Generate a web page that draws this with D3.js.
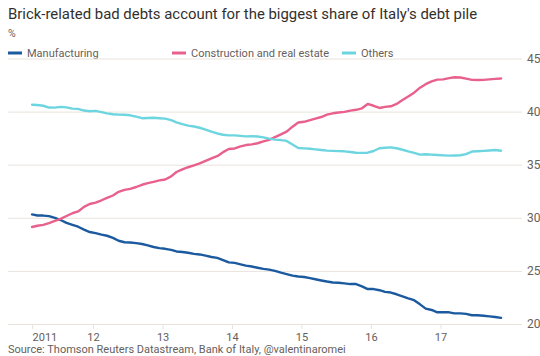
<!DOCTYPE html>
<html>
<head>
<meta charset="utf-8">
<script src="https://cdn.jsdelivr.net/npm/d3@7"></script>
<style>
  html, body { margin: 0; padding: 0; background: #ffffff; }
  svg { display: block; font-family: Roboto, "Noto Sans", sans-serif; }
</style>
</head>
<body>
<svg id="chart" width="540" height="356"></svg>
<script>
// Monthly observations, February 2011 to November 2017 (% of bad debts)
const startYear = 2011, startMonth = 1;

const manufacturing = [
  30.32, 30.22, 30.21, 30.16, 30.00, 29.79, 29.52, 29.34, 29.16, 28.88, 28.66,
  28.56, 28.41, 28.31, 28.11, 27.84, 27.70, 27.68, 27.62, 27.53, 27.41, 27.25, 27.14, 27.08,
  26.98, 26.83, 26.78, 26.71, 26.60, 26.55, 26.44, 26.31, 26.23, 26.02, 25.80, 25.76,
  25.62, 25.50, 25.41, 25.30, 25.19, 25.12, 25.00, 24.83, 24.70, 24.56, 24.47, 24.43,
  24.32, 24.21, 24.10, 24.00, 23.91, 23.89, 23.82, 23.76, 23.76, 23.54, 23.29, 23.29,
  23.18, 23.02, 22.96, 22.80, 22.60, 22.41, 22.24, 21.85, 21.45, 21.32, 21.10, 21.12,
  21.10, 21.00, 21.00, 20.95, 20.82, 20.82, 20.78, 20.72, 20.66, 20.58
];

const construction = [
  29.13, 29.25, 29.33, 29.50, 29.70, 29.90, 30.17, 30.43, 30.60, 31.03, 31.30,
  31.43, 31.65, 31.88, 32.10, 32.45, 32.63, 32.73, 32.90, 33.11, 33.26, 33.39, 33.52, 33.61,
  33.90, 34.31, 34.56, 34.76, 34.94, 35.12, 35.36, 35.59, 35.80, 36.18, 36.48, 36.53,
  36.72, 36.85, 36.91, 37.02, 37.19, 37.34, 37.60, 37.85, 38.11, 38.58, 38.98, 39.04,
  39.20, 39.34, 39.49, 39.71, 39.84, 39.91, 39.97, 40.09, 40.17, 40.31, 40.72, 40.55,
  40.34, 40.45, 40.50, 40.72, 41.09, 41.43, 41.78, 42.25, 42.58, 42.85, 43.01, 43.03,
  43.15, 43.23, 43.21, 43.10, 42.99, 42.97, 42.99, 43.03, 43.08, 43.12
];

const others = [
  40.65, 40.62, 40.55, 40.38, 40.37, 40.44, 40.40, 40.28, 40.26, 40.10, 40.03,
  40.07, 39.95, 39.83, 39.75, 39.72, 39.70, 39.65, 39.53, 39.38, 39.40, 39.42, 39.38, 39.34,
  39.20, 38.99, 38.82, 38.68, 38.60, 38.48, 38.30, 38.12, 37.94, 37.82, 37.76, 37.76,
  37.71, 37.67, 37.69, 37.66, 37.57, 37.46, 37.36, 37.32, 37.24, 36.90, 36.57, 36.54,
  36.50, 36.44, 36.38, 36.33, 36.30, 36.28, 36.26, 36.19, 36.13, 36.11, 36.13, 36.29,
  36.55, 36.60, 36.63, 36.55, 36.41, 36.26, 36.12, 35.95, 35.98, 35.95, 35.91, 35.88,
  35.85, 35.87, 35.89, 36.00, 36.24, 36.27, 36.30, 36.34, 36.38, 36.32
];

const seriesNames = ["Manufacturing", "Construction and real estate", "Others"];
const seriesColors = ["#1b5a9e", "#e8608c", "#6dd5df"];
const yTicks = [20, 25, 30, 35, 40, 45];
const xTickYears = [2011, 2012, 2013, 2014, 2015, 2016, 2017];

const titleText = "Brick-related bad debts account for the biggest share of Italy's debt pile";
const unitText = "%";
const sourceText = "Source: Thomson Reuters Datastream, Bank of Italy, @valentinaromei";

// ---- build series ----
const dates = manufacturing.map((_, i) => new Date(startYear, startMonth + i, 15));
const series = [manufacturing, construction, others].map((vals, k) => ({
  name: seriesNames[k],
  color: seriesColors[k],
  points: vals.map((v, i) => ({ date: dates[i], value: v }))
}));

const svg = d3.select("#chart");
const textColor = "#66605c";
const gridColor = "#e9e3dc";

const x = d3.scaleTime()
  .domain([new Date(2011, 0, 1), new Date(2018, 0, 1)])
  .range([23.5, 510]);
const y = d3.scaleLinear().domain([20, 45]).range([324, 58.5]);
const gridLeft = 8, gridRight = 522;

// title and unit
svg.append("text").attr("x", 8).attr("y", 19)
  .attr("font-size", 14.9).attr("fill", "#33302e").text(titleText);
svg.append("text").attr("x", 8).attr("y", 37)
  .attr("font-size", 10.5).attr("fill", textColor).text(unitText);

// legend
const legendX = [8, 172, 342];
const legend = svg.append("g").selectAll("g").data(series).join("g")
  .attr("transform", (d, i) => `translate(${legendX[i]},53)`);
legend.append("line").attr("x1", 0).attr("x2", 14)
  .attr("stroke", d => d.color).attr("stroke-width", 3);
legend.append("text").attr("x", 19).attr("y", 4)
  .attr("font-size", 11).attr("fill", textColor).text(d => d.name);

// horizontal grid with right-hand labels
const yAxis = d3.axisRight(y).tickValues(yTicks)
  .tickSize(-(gridRight - gridLeft)).tickPadding(5).tickFormat(d3.format("d"));
const yg = svg.append("g").attr("transform", `translate(${gridRight},0)`).call(yAxis);
yg.select(".domain").remove();
yg.selectAll(".tick line").attr("stroke", gridColor).attr("stroke-width", 1);
yg.selectAll(".tick text").attr("fill", textColor).attr("font-size", 12)
  .attr("font-family", "Roboto, sans-serif");

// bottom axis ticks
const xTickDates = xTickYears.map((yr, i) => i === 0 ? dates[0] : new Date(yr, 0, 1));
const xAxis = d3.axisBottom(x).tickValues(xTickDates).tickSize(5).tickPadding(4)
  .tickFormat(d => {
    const yr = d.getFullYear();
    return yr === xTickYears[0] ? String(yr) : String(yr).slice(2);
  });
const xg = svg.append("g").attr("transform", `translate(0,${y(20)})`).call(xAxis);
xg.select(".domain").remove();
xg.selectAll(".tick line").attr("stroke", gridColor);
xg.selectAll(".tick text").attr("fill", textColor).attr("font-size", 11)
  .attr("font-family", "Roboto, sans-serif");
xg.selectAll(".tick text").filter((d, i) => i === 0).attr("text-anchor", "start");

// lines
const line = d3.line().x(d => x(d.date)).y(d => y(d.value));
svg.append("g").selectAll("path").data(series).join("path")
  .attr("fill", "none")
  .attr("stroke", d => d.color)
  .attr("stroke-width", 2.4)
  .attr("stroke-linejoin", "round")
  .attr("stroke-linecap", "round")
  .attr("d", d => line(d.points));

// source
svg.append("text").attr("x", 8).attr("y", 353)
  .attr("font-size", 11).attr("fill", textColor).text(sourceText);
</script>
</body>
</html>
